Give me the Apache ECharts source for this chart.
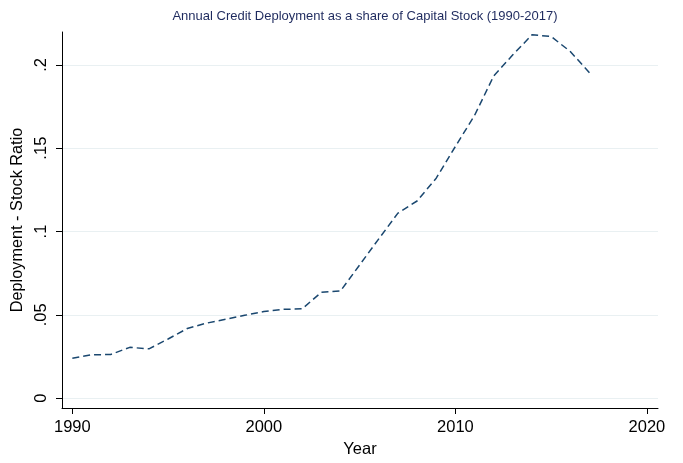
<!DOCTYPE html>
<html>
<head>
<meta charset="utf-8">
<script src="https://cdn.jsdelivr.net/npm/echarts@6/dist/echarts.min.js"></script>
<style>
  html, body { margin: 0; padding: 0; background: #fff; }
  #chart { width: 683px; height: 463px; }
</style>
</head>
<body>
<div id="chart"></div>
<script>
// Annual credit deployment relative to capital stock, 1990-2017
const years = [1990, 1991, 1992, 1993, 1994, 1995, 1996, 1997, 1998, 1999,
               2000, 2001, 2002, 2003, 2004, 2005, 2006, 2007, 2008, 2009,
               2010, 2011, 2012, 2013, 2014, 2015, 2016, 2017];
const ratio = [0.0240, 0.0260, 0.0262, 0.0305, 0.0296, 0.0355, 0.0418, 0.0450, 0.0473, 0.0497,
               0.0520, 0.0533, 0.0536, 0.0635, 0.0643, 0.0799, 0.0956, 0.1110, 0.1183, 0.1320,
               0.1510, 0.1696, 0.1933, 0.2060, 0.2180, 0.2170, 0.2080, 0.1953];
const xTicks = [1990, 2000, 2010, 2020];
const yTicks = [0, 0.05, 0.1, 0.15, 0.2];
const yTickText = ['0', '.05', '.1', '.15', '.2'];

const font = 'Liberation Sans, Arial, Helvetica, sans-serif';
const chart = echarts.init(document.getElementById('chart'), null, { renderer: 'canvas' });

chart.setOption({
  animation: false,
  backgroundColor: '#ffffff',
  title: {
    text: 'Annual Credit Deployment as a share of Capital Stock (1990-2017)',
    left: 360, top: 5, textAlign: 'center',
    textStyle: { fontFamily: font, fontSize: 13, fontWeight: 'normal', color: '#1e2a5e' }
  },
  grid: { left: 62, right: 25, top: 32, bottom: 49, containLabel: false },
  xAxis: {
    type: 'value',
    min: 1989.46, max: 2020.58,
    name: 'Year', nameLocation: 'middle', nameGap: 33,
    nameTextStyle: { fontFamily: font, fontSize: 16.5, color: '#000' },
    axisLine: { show: true, onZero: false, lineStyle: { color: '#000', width: 1 } },
    axisTick: { show: true, length: 6, customValues: xTicks, lineStyle: { color: '#000' } },
    axisLabel: {
      customValues: xTicks, fontFamily: font, fontSize: 16.5, color: '#000', margin: 11,
      formatter: v => String(v)
    },
    splitLine: { show: false }
  },
  yAxis: {
    type: 'value',
    min: -0.0059, max: 0.2197,
    name: 'Deployment - Stock Ratio', nameLocation: 'middle', nameGap: 32,
    nameTextStyle: { fontFamily: font, fontSize: 16.3, color: '#000' },
    axisLine: { show: true, onZero: false, lineStyle: { color: '#000', width: 1 } },
    axisTick: { show: true, length: 6, customValues: yTicks, lineStyle: { color: '#000' } },
    axisLabel: {
      customValues: yTicks, rotate: 90, fontFamily: font, fontSize: 16.5, color: '#000', margin: 12,
      formatter: v => {
        const i = yTicks.findIndex(t => Math.abs(t - v) < 1e-9);
        return i >= 0 ? yTickText[i] : '';
      }
    },
    splitLine: { show: true, lineStyle: { color: '#e9f0f2', width: 1.2 } }
  },
  series: [{
    type: 'line',
    data: years.map((y, i) => [y, ratio[i]]),
    showSymbol: false,
    smooth: false,
    lineStyle: { color: '#1a476f', width: 1.5, type: [7, 4] }
  }]
});
</script>
</body>
</html>
